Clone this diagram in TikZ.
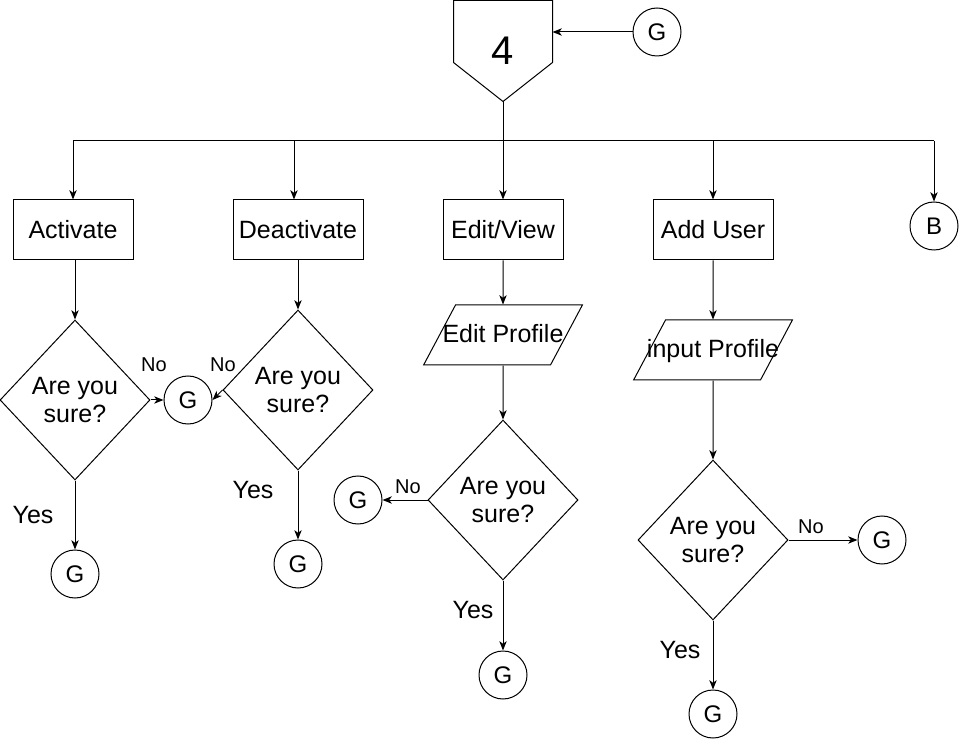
\documentclass[tikz,border=0pt]{standalone}
\usepackage{fontspec}
\setmainfont{Liberation Sans}
\usetikzlibrary{shapes.geometric,arrows.meta,calc}

\tikzset{every picture/.style={line width=0.75pt}}
\tikzset{
  arr/.style={-{Stealth[length=7pt,width=5.5pt,inset=2pt]}},
  proc/.style={draw, rectangle, minimum width=90pt, minimum height=45pt, inner sep=0pt, font=\fontsize{18.75}{21}\selectfont},
  ask/.style={draw, diamond, minimum width=112.5pt, minimum height=120pt, inner sep=0pt, align=center, font=\fontsize{18.75}{21}\selectfont},
  conn/.style={draw, circle, minimum size=36pt, inner sep=0pt, font=\fontsize{18}{21}\selectfont},
  io/.style={draw, trapezium, trapezium left angle=62, trapezium right angle=118, inner xsep=0pt, inner ysep=14pt, text height=14.5pt, text depth=2.5pt, font=\fontsize{18.75}{21}\selectfont},
  lbl/.style={inner sep=0.75pt, font=\fontsize{18.75}{21}\selectfont},
  nolbl/.style={inner sep=0.75pt, font=\fontsize{15}{17}\selectfont}
}

\begin{document}
\begin{tikzpicture}[x=0.75pt,y=0.75pt,yscale=-1,xscale=1]
\useasboundingbox (0,0) rectangle (960,741);

%Shape: Pentagon [id:four] 
\node[minimum width=73.5pt, minimum height=75pt, inner sep=0pt, font=\fontsize{30}{34}\selectfont] (four) at (503,51) {4};
\draw (four.north west) -- (four.north east) -- ++(0,62) -- (four.south) -- ($(four.north west)+(0,62)$) -- cycle ;
%Shape: Circle [id:gtop] 
\node[conn] (gtop) at (657,32) {G};

%Shape: Rectangle [id:act] 
\node[proc] (act) at (73,230) {Activate};
%Shape: Rectangle [id:deact] 
\node[proc, minimum width=97.5pt] (deact) at (298,230) {Deactivate};
%Shape: Rectangle [id:edit] 
\node[proc] (edit) at (503,230) {Edit/View};
%Shape: Rectangle [id:add] 
\node[proc] (add) at (713,230) {Add User};
%Shape: Circle [id:bconn] 
\node[conn] (bconn) at (934,226) {B};

%Shape: Diamond [id:actq] 
\node[ask] (actq) at (75,400) {Are you\\sure?};
\node[conn] (actno) at (188,400) {G};
\node[conn] (actyes) at (75,574) {G};

%Shape: Diamond [id:deactq] 
\node[ask] (deactq) at (298,390) {Are you\\sure?};
\node[conn] (deactyes) at (298,564) {G};

%Shape: Parallelogram [id:editp] 
\node[io] (editp) at (503,335) {\makebox[71.25pt]{Edit Profile}};
%Shape: Diamond [id:editq] 
\node[ask] (editq) at (503,500) {Are you\\sure?};
\node[conn] (editno) at (358,500) {G};
\node[conn] (edityes) at (503,675) {G};

%Shape: Parallelogram [id:addp] 
\node[io] (addp) at (713,350) {\makebox[71.25pt]{input Profile}};
%Shape: Diamond [id:addq] 
\node[ask] (addq) at (713,540) {Are you\\sure?};
\node[conn] (addno) at (882,540) {G};
\node[conn] (addyes) at (713,714) {G};

%Straight Lines [id:bus] 
\coordinate (bus) at (503,141);
\coordinate (deacttop) at ([xshift=-3pt]deact.north);
\draw[arr] (gtop.west) -- (gtop.west -| four.east) ;
\draw (four.south) -- (bus) ;
\draw (bus -| act.north) -- (bus -| bconn.north) ;
\draw[arr] (bus -| act.north) -- (act.north) ;
\draw[arr] (bus -| deacttop) -- (deacttop) ;
\draw[arr] (bus -| edit.north) -- (edit.north) ;
\draw[arr] (bus -| add.north) -- (add.north) ;
\draw[arr] (bus -| bconn.north) -- (bconn.north) ;

%Straight Lines [id:activate] 
\draw[arr] (act.south -| actq.north) -- (actq.north) ;
\draw[arr] (actq.east) -- (actno.west) ;
\draw[arr] (actq.south) -- (actyes.north) ;
%Straight Lines [id:deactivate] 
\draw[arr] (deact.south) -- (deactq.north) ;
\draw[arr] (deactq.west) -- (actno.east) ;
\draw[arr] (deactq.south) -- (deactyes.north) ;
%Straight Lines [id:editview] 
\draw[arr] (edit.south) -- (editp) ;
\draw[arr] (editp) -- (editq.north) ;
\draw[arr] (editq.west) -- (editno.east) ;
\draw[arr] (editq.south) -- (edityes.north) ;
%Straight Lines [id:adduser] 
\draw[arr] (add.south) -- (addp) ;
\draw[arr] (addp) -- (addq.north) ;
\draw[arr] (addq.east) -- (addno.west) ;
\draw[arr] (addq.south) -- (addyes.north) ;

% Text Node
\node[nolbl] (actnol) at (154,365) {No};
% Text Node
\node[nolbl] (deactnol) at (223,365) {No};
% Text Node
\node[nolbl] (editnol) at (408,487) {No};
% Text Node
\node[nolbl] (addnol) at (811,527) {No};
% Text Node
\node[lbl] (actyesl) at (33,515) {Yes};
% Text Node
\node[lbl] (deactyesl) at (253,490) {Yes};
% Text Node
\node[lbl] (edityesl) at (473,610) {Yes};
% Text Node
\node[lbl] (addyesl) at (680,650) {Yes};

\end{tikzpicture}
\end{document}
